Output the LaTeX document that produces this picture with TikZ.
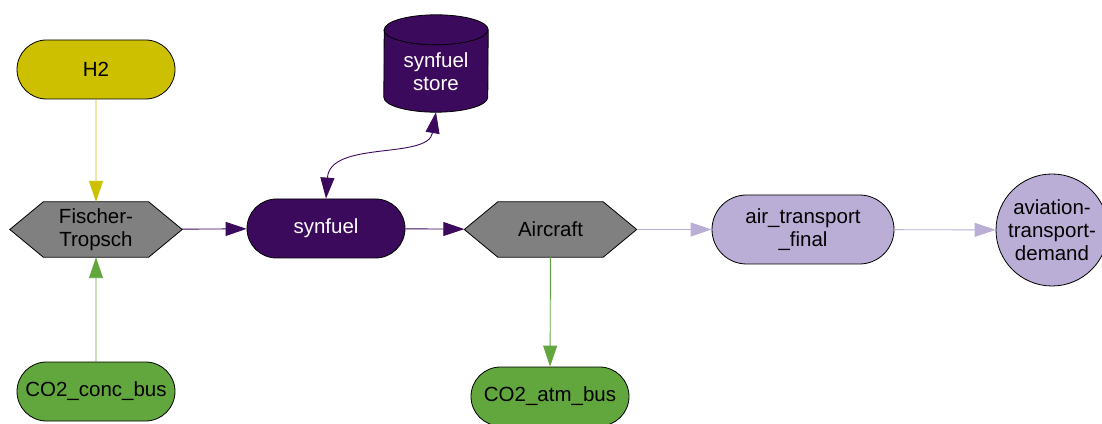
\documentclass[tikz,border=0pt]{standalone}
\usepackage{fontspec}
\setmainfont{Liberation Sans}
\usetikzlibrary{shapes.misc,arrows.meta,backgrounds}
\definecolor{hyellow}{RGB}{204,192,0}
\definecolor{dpurple}{RGB}{59,10,92}
\definecolor{lpurple}{RGB}{187,174,214}
\definecolor{cgreen}{RGB}{98,166,62}
\definecolor{pgray}{RGB}{128,128,128}
\begin{document}
\begin{tikzpicture}[x=1pt,y=1pt,
  every node/.style={font=\fontsize{20.5pt}{23pt}\selectfont, align=center, inner sep=0pt},
  bus/.style={rounded rectangle, draw=black, line width=0.8pt,
    minimum width=158pt, minimum height=59pt},
  hexnode/.style={rectangle, minimum width=172pt, minimum height=55pt},
  hexshape/.style={fill=pgray, draw=black, line width=0.8pt, line join=miter},
  link/.style={line width=0.9pt, -{Triangle[length=21pt,width=14pt]}},
]
\useasboundingbox (0,0) rectangle (1102,423);

% nodes
\node[bus, fill=hyellow] (h2) at (96,353.5) {H2};
\node[hexnode] (ft) at (96,193.5) {Fischer-\\Tropsch};
\node[bus, fill=cgreen] (co2conc) at (96,31.5) {CO2\_conc\_bus};
\node[bus, fill=dpurple, text=white] (synfuel) at (326,194.5) {synfuel};
\node[rectangle, minimum width=104pt, minimum height=97pt] (store) at (436,359.5) {};
\node[text=white] (storelabel) at (436,351) {synfuel\\store};
\node[hexnode] (aircraft) at (550.5,193.5) {Aircraft};
\node[bus, fill=cgreen] (co2atm) at (550,26.5) {CO2\_atm\_bus};
\node[bus, fill=lpurple, minimum width=182pt, minimum height=69pt] (airfinal) at (803,193.5) {air\_transport\\\_final};
\node[circle, draw=black, line width=0.8pt, fill=lpurple, minimum size=112pt] (demand) at (1052,193) {aviation-\\transport-\\demand};

% hexagons and the store cylinder, behind the labels
\begin{scope}[on background layer]
  \fill[white] (0,0) rectangle (1102,423);
  \foreach \n in {ft,aircraft}{
    \draw[hexshape] (\n.west) -- ([xshift=33.5pt]\n.north west) -- ([xshift=-33.5pt]\n.north east)
      -- (\n.east) -- ([xshift=-33.5pt]\n.south east) -- ([xshift=33.5pt]\n.south west) -- cycle;
  }
  \draw[fill=dpurple, draw=black, line width=0.8pt]
    ([yshift=15pt]store.south west) arc[start angle=180, end angle=360, x radius=52pt, y radius=15pt]
    -- ([yshift=-15pt]store.north east) arc[start angle=0, end angle=180, x radius=52pt, y radius=15pt]
    -- cycle;
  \draw[black, line width=0.8pt]
    ([yshift=-15pt]store.north west) arc[start angle=180, end angle=360, x radius=52pt, y radius=15pt];
\end{scope}

% connectors
\draw[link, hyellow] (h2) -- (ft);
\draw[link, cgreen] (co2conc) -- (ft);
\draw[link, dpurple] (ft) -- (synfuel);
\draw[link, dpurple] (synfuel) -- (aircraft);
\draw[link, lpurple] (aircraft) -- (airfinal);
\draw[link, lpurple] (airfinal) -- (demand);
\draw[link, cgreen] (aircraft) -- (co2atm);
\draw[line width=0.9pt, dpurple, {Triangle[length=21pt,width=14pt]}-{Triangle[length=21pt,width=14pt]}]
  (store.south) .. controls (428,263) and (330,283) .. (synfuel.north);
\end{tikzpicture}
\end{document}
